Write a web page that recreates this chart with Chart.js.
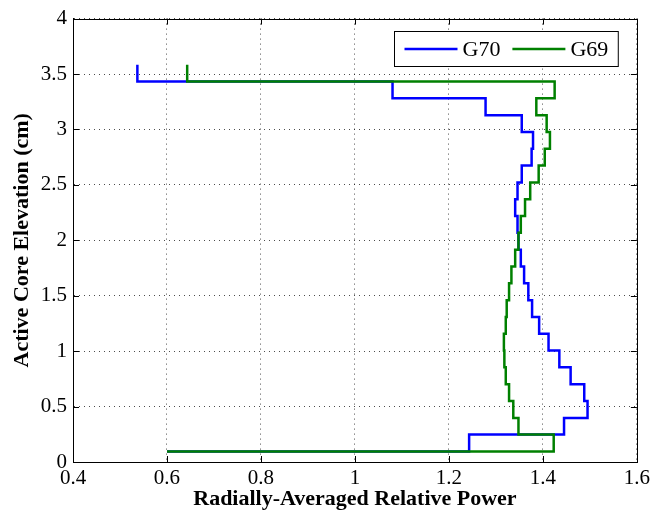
<!DOCTYPE html>
<html>
<head>
<meta charset="utf-8">
<script src="https://cdn.jsdelivr.net/npm/chart.js@4.4.0/dist/chart.umd.min.js"></script>
<style>
  html, body { margin: 0; padding: 0; background: #fff; }
  #wrap { width: 654px; height: 519px; }
</style>
</head>
<body>
<div id="wrap"><canvas id="chart" width="654" height="519"></canvas></div>
<script>
// elevation step boundaries (cm)
var levels = [0.095, 0.247, 0.398, 0.550, 0.702, 0.854, 1.005, 1.157, 1.309, 1.460, 1.612, 1.764,
              1.915, 2.067, 2.219, 2.371, 2.522, 2.674, 2.826, 2.977, 3.129, 3.281, 3.432, 3.584];

// relative power per axial segment (bottom -> top)
var g70 = [1.243, 1.445, 1.495, 1.488, 1.459, 1.435, 1.412, 1.392, 1.377, 1.369, 1.360, 1.353,
           1.348, 1.346, 1.341, 1.346, 1.355, 1.376, 1.379, 1.355, 1.278, 1.080, 0.537];
var g69 = [1.423, 1.348, 1.337, 1.328, 1.321, 1.318, 1.317, 1.321, 1.323, 1.328, 1.333, 1.341,
           1.348, 1.353, 1.362, 1.373, 1.391, 1.404, 1.415, 1.408, 1.386, 1.425, 0.643];
var startPower = 0.6;

var xTicks = [0.4, 0.6, 0.8, 1, 1.2, 1.4, 1.6];
var yTicks = [0, 0.5, 1, 1.5, 2, 2.5, 3, 3.5, 4];

var serif = '"Liberation Serif", "Times New Roman", serif';

// turn segment values into stair points
function stairs(vals) {
    var pts = [{x: startPower, y: levels[0]}];
    for (var k = 0; k < vals.length; k++) {
        pts.push({x: vals[k], y: levels[k]});
        pts.push({x: vals[k], y: levels[k + 1]});
    }
    return pts;
}

// box round the plot, inward ticks, legend
var boxPlugin = {
    id: 'box',
    afterDraw: function (chart) {
        var ctx = chart.ctx;
        var a = chart.chartArea;
        var xs = chart.scales.x, ys = chart.scales.y;
        ctx.save();
        ctx.strokeStyle = '#000';
        ctx.lineWidth = 1;
        ctx.strokeRect(Math.round(a.left) + 0.5, Math.round(a.top) + 0.5,
                       Math.round(a.right - a.left), Math.round(a.bottom - a.top));
        ctx.beginPath();
        xTicks.forEach(function (v) {
            var px = Math.round(xs.getPixelForValue(v)) + 0.5;
            ctx.moveTo(px, a.bottom); ctx.lineTo(px, a.bottom - 6);
            ctx.moveTo(px, a.top); ctx.lineTo(px, a.top + 6);
        });
        yTicks.forEach(function (v) {
            var py = Math.round(ys.getPixelForValue(v)) + 0.5;
            ctx.moveTo(a.left, py); ctx.lineTo(a.left + 6, py);
            ctx.moveTo(a.right, py); ctx.lineTo(a.right - 6, py);
        });
        ctx.stroke();

        // legend
        ctx.font = '22px ' + serif;
        var lineLen = 53, gap = 5, sep = 12, pad = 10;
        var items = chart.data.datasets;
        var w = pad;
        items.forEach(function (d, i) {
            w += lineLen + gap + ctx.measureText(d.label).width + (i < items.length - 1 ? sep : 0);
        });
        w += pad;
        var h = 35;
        var bx = Math.round(a.right - 19 - w) + 0.5, by = Math.round(a.top + 12) + 0.5;
        ctx.fillStyle = '#fff';
        ctx.fillRect(bx, by, w, h);
        ctx.strokeStyle = '#000';
        ctx.strokeRect(bx, by, w, h);
        var cx = bx + pad, cy = by + h / 2;
        ctx.textBaseline = 'middle';
        items.forEach(function (d) {
            ctx.strokeStyle = d.borderColor;
            ctx.lineWidth = 2.5;
            ctx.beginPath();
            ctx.moveTo(cx, cy); ctx.lineTo(cx + lineLen, cy);
            ctx.stroke();
            cx += lineLen + gap;
            ctx.fillStyle = '#000';
            ctx.fillText(d.label, cx, cy + 1);
            cx += ctx.measureText(d.label).width + sep;
        });
        ctx.restore();
    }
};

function fmt(v) { return String(Math.round(v * 10) / 10); }

var context = document.querySelector('#chart').getContext('2d');
new Chart(context, {
    type: 'scatter',
    data: {
        datasets: [{
            label: 'G70',
            data: stairs(g70),
            showLine: true,
            borderColor: '#0000ff',
            backgroundColor: '#0000ff',
            borderWidth: 2.5,
            pointRadius: 0,
            tension: 0,
            order: 1
        }, {
            label: 'G69',
            data: stairs(g69),
            showLine: true,
            borderColor: '#008000',
            backgroundColor: '#008000',
            borderWidth: 2.5,
            pointRadius: 0,
            tension: 0,
            order: 0
        }]
    },
    options: {
        responsive: false,
        animation: false,
        layout: { padding: { top: 15, right: 16, left: 0, bottom: 0 } },
        plugins: { legend: { display: false }, tooltip: { enabled: false } },
        scales: {
            x: {
                type: 'linear',
                min: 0.4, max: 1.6,
                afterBuildTicks: function (s) { s.ticks = xTicks.map(function (v) { return {value: v}; }); },
                afterFit: function (s) { s.height = 57; },
                ticks: { color: '#000', padding: 4, font: { family: serif, size: 21 }, callback: fmt },
                grid: { color: 'rgba(0,0,0,0.7)', drawTicks: false },
                border: { display: true, color: '#000', dash: [1, 4] },
                title: { display: true, text: 'Radially-Averaged Relative Power', color: '#000',
                         font: { family: serif, size: 22, weight: 'bold' }, padding: { top: 0, bottom: 6 } }
            },
            y: {
                type: 'linear',
                min: 0, max: 4,
                afterBuildTicks: function (s) { s.ticks = yTicks.map(function (v) { return {value: v}; }); },
                afterFit: function (s) { s.width = 73; },
                ticks: { color: '#000', padding: 6, font: { family: serif, size: 21 }, callback: fmt },
                grid: { color: 'rgba(0,0,0,0.7)', drawTicks: false },
                border: { display: true, color: '#000', dash: [1, 4] },
                title: { display: true, text: 'Active Core Elevation (cm)', color: '#000',
                         font: { family: serif, size: 22, weight: 'bold' }, padding: { top: 9, bottom: 0 } }
            }
        }
    },
    plugins: [boxPlugin]
});
</script>
</body>
</html>
